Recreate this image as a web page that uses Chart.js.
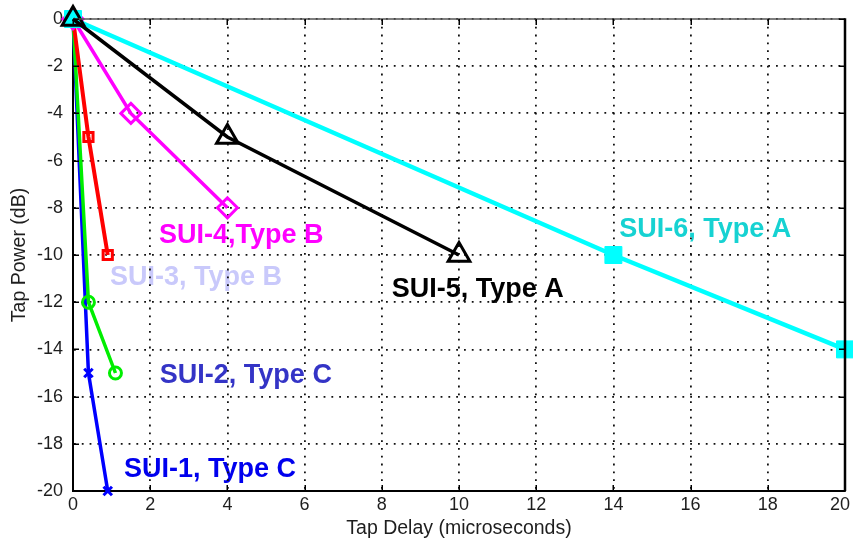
<!DOCTYPE html>
<html>
<head>
<meta charset="utf-8">
<script src="https://cdn.jsdelivr.net/npm/chart.js@4.4.1/dist/chart.umd.min.js"></script>
<style>
html,body{margin:0;padding:0;background:#fff;}
#wrap{width:853px;height:542px;position:relative;}
</style>
</head>
<body>
<div id="wrap"><canvas id="c" width="853" height="542"></canvas></div>
<script>
// ---- data ----
const seriesNames = ['SUI-1', 'SUI-2', 'SUI-3', 'SUI-4', 'SUI-5', 'SUI-6'];
const sui1Delay = [0, 0.4, 0.9];
const sui1Power = [0, -15, -20];
const sui2Delay = [0, 0.4, 1.1];
const sui2Power = [0, -12, -15];
const sui3Delay = [0, 0.4, 0.9];
const sui3Power = [0, -5, -10];
const sui4Delay = [0, 1.5, 4];
const sui4Power = [0, -4, -8];
const sui5Delay = [0, 4, 10];
const sui5Power = [0, -5, -10];
const sui6Delay = [0, 14, 20];
const sui6Power = [0, -10, -14];
const xTickValues = [0, 2, 4, 6, 8, 10, 12, 14, 16, 18, 20];
const yTickValues = [0, -2, -4, -6, -8, -10, -12, -14, -16, -18, -20];
const labelTexts = ['SUI-1, Type C', 'SUI-2, Type C', 'SUI-3, Type B', 'SUI-4,Type B', 'SUI-5, Type A', 'SUI-6, Type A'];
// annotation anchors (data coordinates)
const labelAnchorX = [1.32, 2.25, 0.96, 2.23, 8.26, 14.15];
const labelAnchorY = [-19.41, -15.42, -11.27, -9.49, -11.78, -9.24];

// ---- styles ----
const labelColors = ['#0000ee', '#3434c6', '#c9c9fb', '#ff00ff', '#000000', '#16d2d2'];
const FONT = '"Liberation Sans", Arial, Helvetica, sans-serif';

function pts(xs, ys) { return xs.map((v, i) => ({x: v, y: ys[i]})); }

const seriesStyle = [
  {color: '#0000ff', width: 3.5, style: 'crossRot', r: 6, bw: 3},
  {color: '#00ee00', width: 3.5, style: 'circle', r: 6, bw: 3},
  {color: '#ff0000', width: 4, style: 'rect', r: 6.5, bw: 3},
  {color: '#ff00ff', width: 3.5, style: 'rectRot', r: 10, bw: 3},
  {color: '#000000', width: 3.5, style: 'triangle', r: 12.5, bw: 3},
  {color: '#00ffff', width: 4.5, style: 'rect', r: 12, bw: 1, fill: true}
];
const seriesData = [
  pts(sui1Delay, sui1Power), pts(sui2Delay, sui2Power), pts(sui3Delay, sui3Power),
  pts(sui4Delay, sui4Power), pts(sui5Delay, sui5Power), pts(sui6Delay, sui6Power)
];
const drawOrder = [5, 4, 3, 2, -1, 0]; // larger order drawn first; SUI-5 on top

const datasets = seriesNames.map((name, i) => {
  const s = seriesStyle[i];
  return {
    label: name,
    data: seriesData[i],
    showLine: true,
    borderColor: s.color,
    borderWidth: s.width,
    pointStyle: s.style,
    pointRadius: s.r,
    pointBorderWidth: s.bw,
    pointBorderColor: s.color,
    pointBackgroundColor: s.fill ? s.color : 'rgba(0,0,0,0)',
    backgroundColor: s.fill ? s.color : 'rgba(0,0,0,0)',
    tension: 0,
    fill: false,
    clip: false,
    order: drawOrder[i]
  };
});

const framePlugin = {
  id: 'frame',
  beforeDraw(chart) {
    const {ctx, scales: {x, y}} = chart;
    // keep the last x tick label inside the canvas
    const items = x.getLabelItems();
    const last = items[items.length - 1];
    if (last && !last._shifted) { last.options.translation[0] -= 5; last._shifted = true; }
    ctx.save();
    ctx.font = 'bold 27px ' + FONT;
    ctx.textAlign = 'left';
    ctx.textBaseline = 'alphabetic';
    labelTexts.forEach((t, i) => {
      ctx.fillStyle = labelColors[i];
      ctx.fillText(t, x.getPixelForValue(labelAnchorX[i]), y.getPixelForValue(labelAnchorY[i]));
    });
    ctx.restore();
  },
  afterDatasetsDraw(chart) {
    const {ctx, chartArea: a, scales: {x, y}} = chart;
    ctx.save();
    ctx.strokeStyle = '#555';
    ctx.lineWidth = 1.5;
    ctx.beginPath(); ctx.moveTo(a.left, a.top); ctx.lineTo(a.right, a.top); ctx.stroke();
    ctx.strokeStyle = '#000';
    ctx.lineWidth = 2.5;
    ctx.beginPath(); ctx.moveTo(a.right, a.top - 0.75); ctx.lineTo(a.right, a.bottom); ctx.stroke();
    ctx.lineWidth = 1.5;
    xTickValues.forEach(v => {
      const px = Math.round(x.getPixelForValue(v)) + 0.25;
      ctx.beginPath(); ctx.moveTo(px, a.bottom); ctx.lineTo(px, a.bottom - 6); ctx.stroke();
      ctx.beginPath(); ctx.moveTo(px, a.top); ctx.lineTo(px, a.top + 6); ctx.stroke();
    });
    yTickValues.forEach(v => {
      const py = Math.round(y.getPixelForValue(v)) + 0.25;
      ctx.beginPath(); ctx.moveTo(a.left, py); ctx.lineTo(a.left + 6, py); ctx.stroke();
      ctx.beginPath(); ctx.moveTo(a.right, py); ctx.lineTo(a.right - 6, py); ctx.stroke();
    });
    ctx.restore();
  }
};

new Chart(document.getElementById('c'), {
  type: 'scatter',
  data: {datasets},
  options: {
    responsive: false,
    animation: false,
    devicePixelRatio: 1,
    layout: {autoPadding: false, padding: {top: 19, right: 8, left: 0, bottom: 0}},
    plugins: {legend: {display: false}, tooltip: {enabled: false}},
    scales: {
      x: {
        type: 'linear', min: 0, max: 20,
        afterBuildTicks(scale) { scale.ticks = xTickValues.map(v => ({value: v})); },
        afterFit(scale) { scale.height = 51; scale.paddingLeft = 0; scale.paddingRight = 0; },
        ticks: {color: '#1e1e1e', font: {family: FONT, size: 18}, padding: 3, maxRotation: 0, autoSkip: false},
        grid: {color: '#111', lineWidth: 1.8, drawTicks: false},
        border: {display: true, color: '#000', width: 2, dash: [1.8, 6]},
        title: {display: true, text: 'Tap Delay (microseconds)', color: '#1e1e1e', font: {family: FONT, size: 19.5}, padding: {top: 0, bottom: 2}}
      },
      y: {
        type: 'linear', min: -20, max: 0,
        afterBuildTicks(scale) { scale.ticks = yTickValues.map(v => ({value: v})); },
        afterFit(scale) { scale.width = 73; scale.paddingTop = 0; scale.paddingBottom = 0; },
        ticks: {color: '#1e1e1e', font: {family: FONT, size: 18}, padding: 10, autoSkip: false},
        grid: {color: '#111', lineWidth: 1.8, drawTicks: false},
        border: {display: true, color: '#000', width: 2, dash: [1.8, 6]},
        title: {display: true, text: 'Tap Power (dB)', color: '#1e1e1e', font: {family: FONT, size: 19.5}, padding: {top: 8, bottom: 0}}
      }
    }
  },
  plugins: [framePlugin]
});
</script>
</body>
</html>
